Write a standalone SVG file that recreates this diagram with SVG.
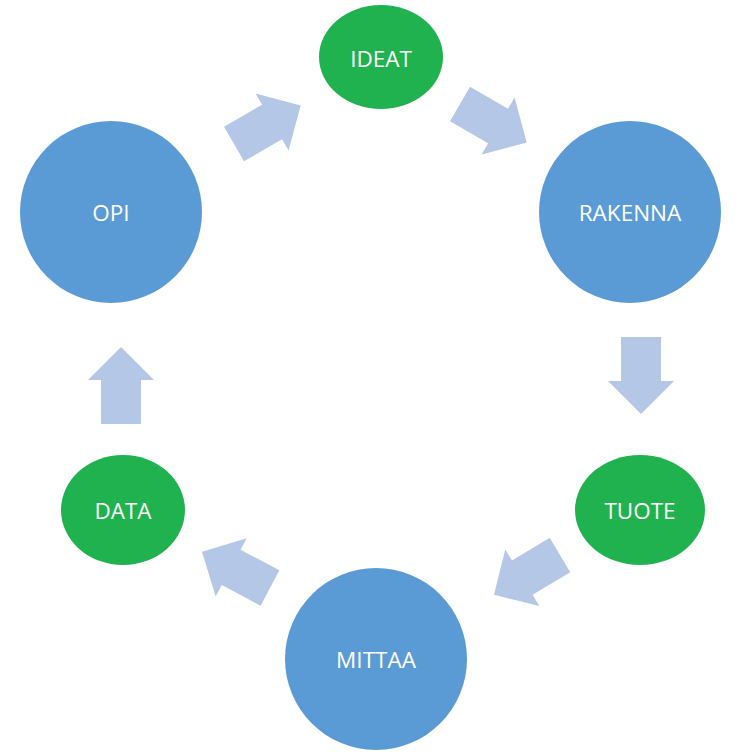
<svg xmlns="http://www.w3.org/2000/svg" xmlns:xlink="http://www.w3.org/1999/xlink" width="756" height="756" viewBox="0 0 756 756">
<style>
.blue{fill:#5b9bd5}
.green{fill:#1fb24e}
.arr{fill:#b4c7e7}
.lbl{fill:#ffffff;font-family:"Open Sans","Liberation Sans",sans-serif;font-size:22.5px;text-anchor:middle;dominant-baseline:central}
</style>
<defs>
<polygon id="arrow" class="arr" points="0,-20 44,-20 44,-33 77,0 44,33 44,20 0,20"/>
</defs>
<rect width="756" height="756" fill="#ffffff"/>
<g id="connectors">
<use xlink:href="#arrow" transform="translate(234,144) rotate(-30)"/>
<use xlink:href="#arrow" transform="translate(460,104) rotate(30)"/>
<use xlink:href="#arrow" transform="translate(641,337) rotate(90)"/>
<use xlink:href="#arrow" transform="translate(560,555) rotate(149)"/>
<use xlink:href="#arrow" transform="translate(270,588) rotate(208)"/>
<use xlink:href="#arrow" transform="translate(121,424) rotate(-90)"/>
</g>
<g id="ideat"><ellipse class="green" cx="381" cy="57" rx="62" ry="52"/><text class="lbl" x="381" y="58">IDEAT</text></g>
<g id="rakenna"><circle class="blue" cx="630" cy="212" r="91"/><text class="lbl" x="630" y="212">RAKENNA</text></g>
<g id="tuote"><ellipse class="green" cx="640" cy="510" rx="65" ry="55"/><text class="lbl" x="640" y="510">TUOTE</text></g>
<g id="mittaa"><circle class="blue" cx="376" cy="659" r="91"/><text class="lbl" x="376" y="659">MITTAA</text></g>
<g id="data"><ellipse class="green" cx="123" cy="510" rx="62" ry="55"/><text class="lbl" x="123" y="510">DATA</text></g>
<g id="opi"><circle class="blue" cx="111" cy="212" r="91"/><text class="lbl" x="111" y="212">OPI</text></g>
</svg>
